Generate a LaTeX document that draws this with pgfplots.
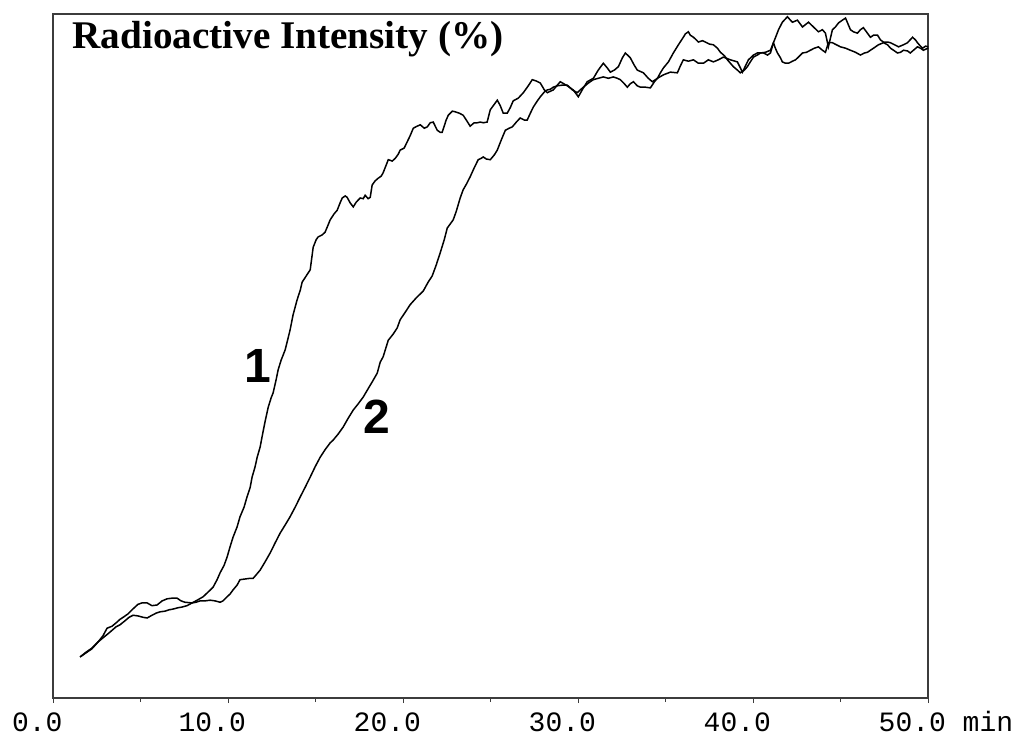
\documentclass[border=0pt]{standalone}
\usepackage{fontspec}
\setmainfont{Liberation Serif}
\setmonofont{Liberation Mono}
\newfontfamily\labfont{Liberation Sans}
\usepackage{pgfplots}
\pgfplotsset{compat=1.18}

\definecolor{frame}{RGB}{60,60,60}

\begin{document}
\begin{tikzpicture}
% page = 1020 x 735 px, 1 px = 0.5 pt
\path[use as bounding box] (-26.65pt,-18.5pt) rectangle (483.35pt,349pt);
\begin{axis}[
  scale only axis,
  width=437.5pt, height=342pt,
  xmin=0, xmax=50, ymin=0, ymax=100,
  axis line style={frame, line width=1pt},
  ytick=\empty,
  xtick={0,10,20,30,40,50},
  minor xtick={5,15,25,35,45},
  xticklabels={0.0,10.0,20.0,30.0,40.0,50.0\rlap{\ min}},
  tick align=outside,
  major tick length=2.5pt, minor tick length=2pt,
  tick style={frame, line width=0.6pt},
  xtick pos=bottom,
  xticklabel style={font=\ttfamily\fontsize{14}{14}\selectfont, anchor=base, xshift=-8pt, yshift=-14pt},
  clip=false,
]
\addplot[black, line width=0.75pt] coordinates {
(1.53,6.0) (1.87,6.7) (2.21,7.3) (2.56,8.2) (2.84,9.1) (3.07,10.2) (3.36,10.5) (3.64,11.1)
(3.81,11.5) (3.99,11.8) (4.27,12.3) (4.50,12.9) (4.67,13.3) (4.84,13.7) (5.07,13.9) (5.36,13.9)
(5.64,13.5) (5.93,13.6) (6.22,14.2) (6.50,14.5) (6.79,14.6) (7.07,14.6) (7.30,14.2) (7.53,14.0)
(7.93,13.9) (8.22,14.3) (8.56,14.8) (8.85,15.5) (9.13,16.2) (9.36,17.3) (9.53,18.3) (9.76,19.4)
(9.93,20.6) (10.10,22.1) (10.27,23.5) (10.50,25.0) (10.67,26.5) (10.90,27.9) (11.07,29.4) (11.25,30.8)
(11.36,32.3) (11.53,33.8) (11.65,35.2) (11.82,36.7) (11.93,38.2) (12.10,40.4) (12.28,42.5) (12.45,43.9)
(12.56,44.6) (12.73,46.5) (12.85,48.0) (13.02,49.4) (13.25,50.9) (13.53,53.8) (13.70,56.0) (13.93,58.2)
(14.11,59.6) (14.22,60.8) (14.45,61.7) (14.68,62.6) (14.85,65.9) (15.02,67.0) (15.13,67.4) (15.36,67.7)
(15.53,68.1) (15.71,69.2) (15.82,69.9) (16.05,70.8) (16.22,71.3) (16.39,72.4) (16.51,73.1) (16.68,73.4)
(16.79,73.2) (16.96,72.4) (17.14,71.8) (17.31,72.5) (17.54,73.1) (17.71,73.0) (17.82,73.5) (17.99,73.0)
(18.11,73.2) (18.22,75.0) (18.39,75.6) (18.57,76.0) (18.74,76.3) (18.85,76.8) (19.02,77.9) (19.14,78.7)
(19.37,78.5) (19.54,78.9) (19.71,79.5) (19.82,80.1) (20.05,80.4) (20.22,81.3) (20.39,82.2) (20.57,83.3)
(20.79,83.6) (20.97,83.8) (21.20,83.3) (21.37,83.5) (21.54,84.1) (21.71,84.2) (21.94,83.0) (22.11,82.7)
(22.22,82.7) (22.45,84.5) (22.57,85.2) (22.80,85.8) (22.97,85.7) (23.20,85.5) (23.42,85.2) (23.60,84.5)
(23.82,83.6) (24.05,84.1) (24.23,84.1) (24.40,84.2) (24.57,84.1) (24.79,84.2) (24.97,86.0) (25.20,86.8)
(25.37,87.4) (25.54,86.6) (25.71,85.5) (25.94,85.5) (26.11,86.3) (26.28,87.3) (26.57,87.7) (26.86,88.5)
(27.14,89.5) (27.37,90.4) (27.60,90.2) (27.83,89.9) (28.06,88.9) (28.23,88.5) (28.40,88.7) (28.57,88.9)
(28.80,89.6) (28.97,90.1) (29.37,89.5) (29.71,88.9) (30.00,87.9) (30.29,89.2) (30.51,90.1) (30.86,90.6)
(31.14,91.8) (31.43,92.8) (31.66,92.1) (31.83,91.5) (32.06,91.8) (32.29,92.3) (32.52,93.6) (32.69,94.3)
(32.97,93.6) (33.20,92.5) (33.37,91.8) (33.72,91.4) (34.00,90.6) (34.23,90.1) (34.52,90.6) (34.86,91.1)
(35.26,91.5) (35.66,91.4) (35.83,92.4) (36.00,93.3) (36.29,93.1) (36.58,93.3) (36.86,92.8) (37.15,92.8)
(37.43,93.3) (37.72,93.0) (38.00,93.3) (38.29,93.7) (38.69,93.3) (39.09,93.0) (39.38,91.5) (39.72,93.3)
(40.01,94.0) (40.23,94.3) (40.58,94.3) (40.81,94.0) (40.98,94.3) (41.15,95.8) (41.32,96.9) (41.44,97.7)
(41.66,98.8) (41.95,99.6) (42.12,99.1) (42.24,98.8) (42.52,99.1) (42.81,98.1) (43.15,98.8) (43.44,98.1)
(43.72,97.4) (43.95,97.7) (44.12,97.2) (44.29,95.2) (44.52,97.7) (44.69,98.1) (44.87,98.7) (45.09,99.1)
(45.27,99.4) (45.55,97.7) (45.72,97.4) (45.95,97.2) (46.12,97.7) (46.29,98.0) (46.52,97.2) (46.69,96.6)
(46.87,96.9) (47.10,96.9) (47.27,96.2) (47.44,95.9) (47.67,95.9) (47.84,95.8) (48.07,95.5) (48.30,95.2)
(48.58,95.5) (48.81,95.8) (49.10,96.6) (49.27,96.2) (49.38,95.8) (49.55,95.3) (49.67,95.0) (49.84,95.3)
(50.00,95.2)
};
\addplot[black, line width=0.75pt] coordinates {
(1.53,6.0) (1.87,6.6) (2.21,7.2) (2.56,8.2) (2.84,8.8) (3.13,9.4) (3.36,9.9) (3.58,10.4)
(3.81,10.7) (4.10,11.3) (4.33,11.8) (4.56,12.1) (4.84,12.0) (5.13,11.8) (5.36,11.7) (5.64,12.1)
(5.87,12.4) (6.10,12.6) (6.39,12.7) (6.62,12.9) (6.84,13.0) (7.13,13.2) (7.36,13.3) (7.64,13.5)
(7.93,13.9) (8.16,14.0) (8.39,14.2) (8.67,14.2) (8.96,14.3) (9.25,14.2) (9.53,14.0) (9.70,14.2)
(9.93,14.8) (10.10,15.2) (10.27,15.8) (10.50,16.5) (10.67,17.3) (10.96,17.4) (11.25,17.5) (11.42,17.5)
(11.59,18.0) (11.82,18.7) (12.10,19.9) (12.39,21.2) (12.68,22.7) (12.96,24.1) (13.25,25.3) (13.53,26.5)
(13.82,27.9) (14.11,29.4) (14.39,30.8) (14.68,32.3) (14.96,33.8) (15.25,35.2) (15.53,36.3) (15.82,37.3)
(15.99,37.7) (16.28,38.6) (16.56,39.6) (16.85,40.9) (17.14,42.1) (17.42,43.0) (17.71,44.0) (17.94,45.0)
(18.22,46.2) (18.51,47.5) (18.68,49.1) (18.85,49.9) (19.14,52.3) (19.42,53.2) (19.65,54.1) (19.82,55.3)
(20.11,56.4) (20.39,57.5) (20.74,58.5) (21.14,59.5) (21.42,60.8) (21.65,61.7) (21.88,63.3) (22.11,65.1)
(22.34,67.0) (22.51,68.7) (22.68,69.3) (22.85,69.9) (23.02,71.1) (23.25,73.1) (23.42,74.3) (23.60,75.1)
(23.82,76.2) (24.05,77.5) (24.28,78.7) (24.45,78.9) (24.57,79.1) (24.74,78.8) (24.97,78.7) (25.20,79.4)
(25.37,80.1) (25.60,81.6) (25.83,83.0) (26.05,83.3) (26.23,83.5) (26.46,84.2) (26.68,84.8) (26.91,84.5)
(27.08,84.5) (27.26,85.5) (27.43,86.4) (27.66,87.3) (27.83,87.9) (28.06,88.6) (28.23,88.9) (28.40,89.0)
(28.57,89.3) (28.80,89.5) (29.09,89.6) (29.37,89.6) (29.66,88.9) (29.94,88.5) (30.11,88.9) (30.29,89.3)
(30.57,89.9) (30.86,90.4) (31.14,90.6) (31.43,90.8) (31.72,90.6) (32.00,90.8) (32.23,90.6) (32.40,90.4)
(32.63,89.8) (32.80,89.3) (32.97,89.8) (33.15,90.1) (33.37,89.5) (33.55,89.3) (33.83,89.3) (34.12,89.2)
(34.35,90.1) (34.52,90.6) (34.69,91.4) (34.86,92.1) (35.15,93.0) (35.43,94.3) (35.72,95.5) (36.00,96.6)
(36.12,97.1) (36.29,97.4) (36.40,96.9) (36.58,96.6) (36.75,96.2) (36.86,95.9) (37.09,96.1) (37.26,95.9)
(37.49,95.6) (37.72,95.5) (37.95,95.0) (38.12,94.4) (38.35,93.9) (38.52,93.3) (38.69,92.8) (38.86,92.3)
(39.09,91.8) (39.26,91.4) (39.49,91.8) (39.66,92.3) (39.83,93.0) (40.01,93.7) (40.23,94.0) (40.41,94.3)
(40.69,94.4) (40.98,94.7) (41.15,95.8) (41.26,95.0) (41.38,94.3) (41.55,93.6) (41.66,93.0) (41.84,92.8)
(42.01,92.8) (42.24,93.1) (42.41,93.3) (42.58,93.7) (42.81,94.3) (43.04,94.4) (43.26,94.7) (43.49,95.0)
(43.72,95.2) (43.95,94.7) (44.12,94.4) (44.29,95.8) (44.52,95.8) (44.75,95.5) (44.98,95.2) (45.27,95.0)
(45.55,94.7) (45.84,94.4) (46.12,94.0) (46.35,94.3) (46.52,94.4) (46.69,94.7) (46.87,95.0) (47.15,95.5)
(47.44,95.8) (47.67,95.5) (47.84,95.0) (48.07,94.6) (48.24,94.3) (48.41,94.4) (48.58,94.7) (48.81,94.6)
(48.97,94.3) (49.15,94.7) (49.38,95.2) (49.55,95.0) (49.72,94.7) (49.89,94.9) (50.00,95.0)
};
\node[anchor=base west, inner sep=0pt, font=\bfseries\fontsize{19.6}{19.6}\selectfont]
  at (rel axis cs:0.0214,0.950) {Radioactive Intensity (\%)};
\node[font=\labfont\bfseries\fontsize{24}{24}\selectfont] at (axis cs:11.70,48.5) {1};
\node[font=\labfont\bfseries\fontsize{24}{24}\selectfont] at (axis cs:18.51,41.1) {2};
\end{axis}
\end{tikzpicture}
\end{document}
